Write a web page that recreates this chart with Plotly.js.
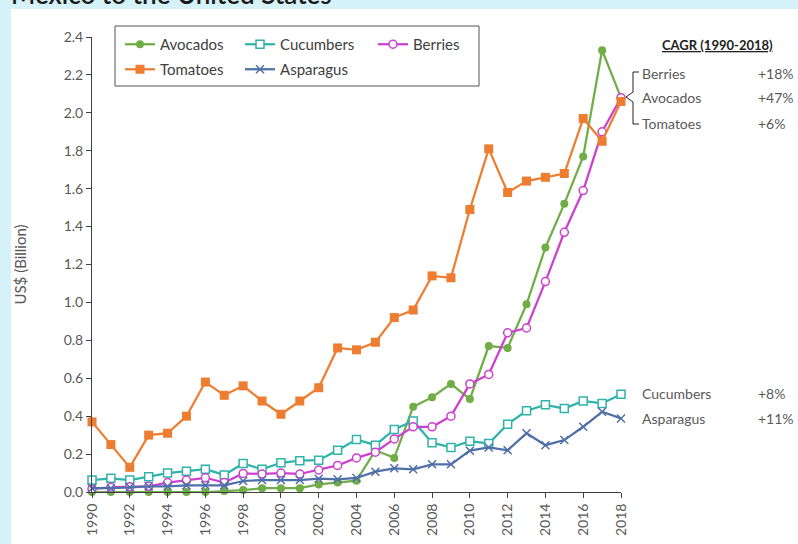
<!DOCTYPE html>
<html>
<head>
<meta charset="utf-8">
<script src="https://cdn.plot.ly/plotly-3.0.1.min.js"></script>
<style>
  body { margin: 0; background: #d5f2f8; }
  #chart { width: 798px; height: 544px; }
</style>
</head>
<body>
<div id="chart"></div>
<script>
// export values, US$ billion
var years = [1990, 1991, 1992, 1993, 1994, 1995, 1996, 1997, 1998, 1999, 2000, 2001, 2002, 2003, 2004,
             2005, 2006, 2007, 2008, 2009, 2010, 2011, 2012, 2013, 2014, 2015, 2016, 2017, 2018];
var avocados  = [0.00, 0.00, 0.00, 0.00, 0.00, 0.00, 0.00, 0.005, 0.01, 0.02, 0.02, 0.02, 0.04, 0.05, 0.06,
                 0.22, 0.18, 0.45, 0.50, 0.57, 0.49, 0.77, 0.76, 0.99, 1.29, 1.52, 1.77, 2.33, 2.08];
var cucumbers = [0.063, 0.072, 0.063, 0.08, 0.10, 0.11, 0.12, 0.09, 0.15, 0.12, 0.154, 0.165, 0.168, 0.22, 0.277,
                 0.247, 0.33, 0.375, 0.26, 0.235, 0.268, 0.256, 0.358, 0.428, 0.46, 0.44, 0.48, 0.467, 0.516];
var berries   = [0.016, 0.025, 0.028, 0.03, 0.05, 0.063, 0.075, 0.05, 0.098, 0.095, 0.10, 0.095, 0.116, 0.14, 0.18,
                 0.21, 0.28, 0.344, 0.344, 0.40, 0.57, 0.62, 0.84, 0.865, 1.11, 1.37, 1.59, 1.90, 2.08];
var tomatoes  = [0.37, 0.25, 0.13, 0.30, 0.31, 0.40, 0.58, 0.51, 0.56, 0.48, 0.41, 0.48, 0.55, 0.76, 0.75,
                 0.79, 0.92, 0.96, 1.14, 1.13, 1.49, 1.81, 1.58, 1.64, 1.66, 1.68, 1.97, 1.85, 2.06];
var asparagus = [0.02, 0.02, 0.025, 0.03, 0.03, 0.035, 0.035, 0.035, 0.058, 0.063, 0.063, 0.063, 0.07, 0.067, 0.074,
                 0.107, 0.125, 0.12, 0.146, 0.146, 0.218, 0.235, 0.22, 0.31, 0.247, 0.274, 0.344, 0.423, 0.388];

var xTicks = [1990, 1992, 1994, 1996, 1998, 2000, 2002, 2004, 2006, 2008, 2010, 2012, 2014, 2016, 2018];

var cagrTop    = [['Berries', '+18%'], ['Avocados', '+47%'], ['Tomatoes', '+6%']];
var cagrBottom = [['Cucumbers', '+8%'], ['Asparagus', '+11%']];

var FONT = 'Lato, "Liberation Sans", sans-serif';

// plot area in pixels, used to turn pixel spots into paper coords
var L = 92, R = 621, T = 37, B = 492;
function px(X) { return (X - L) / (R - L); }
function py(Y) { return (B - Y) / (B - T); }

var avoTrace = {
    x: years, y: avocados, name: 'Avocados', mode: 'lines+markers', cliponaxis: false,
    line: {color: '#70ad47', width: 2.25},
    marker: {symbol: 'circle', size: 8, color: '#70ad47'},
    legend: 'legend'
};
var cucTrace = {
    x: years, y: cucumbers, name: 'Cucumbers', mode: 'lines+markers', cliponaxis: false,
    line: {color: '#2fb3aa', width: 2.25},
    marker: {symbol: 'square', size: 8, color: '#ffffff', line: {color: '#2fb3aa', width: 1.5}},
    legend: 'legend'
};
var berTrace = {
    x: years, y: berries, name: 'Berries', mode: 'lines+markers', cliponaxis: false,
    line: {color: '#cc3fcf', width: 2.25},
    marker: {symbol: 'circle', size: 8, color: '#ffffff', line: {color: '#cc3fcf', width: 1.5}},
    legend: 'legend3'
};
var tomTrace = {
    x: years, y: tomatoes, name: 'Tomatoes', mode: 'lines+markers', cliponaxis: false,
    line: {color: '#ed7d31', width: 2.25},
    marker: {symbol: 'square', size: 9, color: '#ed7d31'},
    legend: 'legend2'
};
var aspTrace = {
    x: years, y: asparagus, name: 'Asparagus', mode: 'lines+markers', cliponaxis: false,
    line: {color: '#4f6fa8', width: 2.25},
    marker: {symbol: 'x-thin', size: 8, color: '#4f6fa8', line: {color: '#4f6fa8', width: 1.5}},
    legend: 'legend2'
};

var data = [avoTrace, cucTrace, berTrace, tomTrace, aspTrace];

var legendBase = {
    orientation: 'h', xanchor: 'left', yanchor: 'top',
    font: {family: FONT, size: 15, color: '#404040'},
    itemwidth: 30, entrywidth: 75, bgcolor: 'rgba(0,0,0,0)', borderwidth: 0
};

var annotations = [
    {text: 'Mexico to the United States', xref: 'paper', yref: 'paper',
     x: px(9), y: py(12), xanchor: 'left', yanchor: 'bottom', showarrow: false,
     font: {family: FONT, size: 26, color: '#1a1a1a', weight: 600}},
    {text: '<b><u>CAGR (1990-2018)</u></b>', xref: 'paper', yref: 'paper',
     x: px(717), y: py(45), xanchor: 'center', yanchor: 'middle', showarrow: false,
     font: {family: FONT, size: 13, color: '#222222'}}
];
function addRows(rows, startY, stepY) {
    rows.forEach(function (r, i) {
        var yy = py(startY + i * stepY);
        annotations.push({text: r[0], xref: 'paper', yref: 'paper', x: px(640), y: yy,
            xanchor: 'left', yanchor: 'middle', showarrow: false,
            font: {family: FONT, size: 14, color: '#595959'}});
        annotations.push({text: r[1], xref: 'paper', yref: 'paper', x: px(756), y: yy,
            xanchor: 'left', yanchor: 'middle', showarrow: false,
            font: {family: FONT, size: 14, color: '#595959'}});
    });
}
addRows(cagrTop, 73, 25);
addRows(cagrBottom, 393, 25);

var bracket = 'M ' + px(639) + ',' + py(72) + ' L ' + px(633) + ',' + py(72) +
              ' L ' + px(633) + ',' + py(92) + ' L ' + px(626) + ',' + py(97) +
              ' L ' + px(633) + ',' + py(102) + ' L ' + px(633) + ',' + py(124) +
              ' L ' + px(639) + ',' + py(124);

var layout = {
    width: 798, height: 544,
    margin: {l: L, r: 798 - R, t: T, b: 544 - B},
    paper_bgcolor: '#d5f2f8',
    plot_bgcolor: 'rgba(0,0,0,0)',
    font: {family: FONT, color: '#595959'},
    xaxis: {
        range: [1990, 2018], tickvals: xTicks, tickangle: -90,
        ticks: 'outside', ticklen: 5, tickcolor: '#404040',
        showline: true, linecolor: '#404040', linewidth: 1,
        showgrid: false, zeroline: false,
        tickfont: {family: FONT, size: 14, color: '#595959'}
    },
    yaxis: {
        range: [0, 2.4], dtick: 0.2, tickformat: '.1f',
        ticks: 'outside', ticklen: 5, tickcolor: '#404040',
        showline: true, linecolor: '#404040', linewidth: 1,
        showgrid: false, zeroline: false,
        tickfont: {family: FONT, size: 14, color: '#595959'},
        title: {text: 'US$ (Billion)', font: {family: FONT, size: 15, color: '#595959'}, standoff: 33}
    },
    legend: Object.assign({}, legendBase, {x: px(120), y: py(28)}),
    legend3: Object.assign({}, legendBase, {x: px(373), y: py(28)}),
    legend2: Object.assign({}, legendBase, {x: px(120), y: py(53)}),
    shapes: [
        {type: 'rect', xref: 'paper', yref: 'paper', layer: 'below',
         x0: px(11), x1: px(800), y0: py(546), y1: py(9),
         fillcolor: '#ffffff', line: {width: 0}},
        {type: 'rect', xref: 'paper', yref: 'paper',
         x0: px(115), x1: px(479), y0: py(86), y1: py(26),
         line: {color: '#555555', width: 1}},
        {type: 'path', xref: 'paper', yref: 'paper', path: bracket,
         line: {color: '#222222', width: 1}}
    ],
    annotations: annotations,
    showlegend: true
};

Plotly.newPlot('chart', data, layout, {displayModeBar: false, responsive: false});
</script>
</body>
</html>
